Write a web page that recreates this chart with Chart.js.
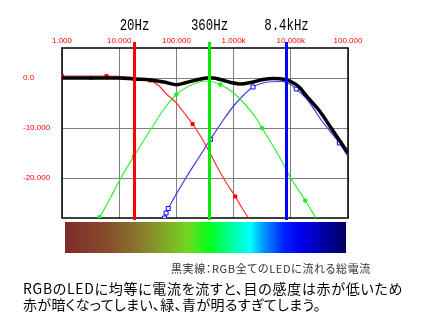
<!DOCTYPE html>
<html>
<head>
<meta charset="utf-8">
<title>RGB LED</title>
<script src="https://cdn.jsdelivr.net/npm/chart.js@4.4.1/dist/chart.umd.min.js"></script>
<style>
  body { margin: 0; background: #fff; }
  #wrap { position: relative; width: 428px; height: 327px; overflow: hidden; }
  #chart { position: absolute; left: 0; top: 0; }
  #spectrum {
    position: absolute; left: 65px; top: 222px; width: 281px; height: 31px;
    background: linear-gradient(to right, #7e2a28 0%, #86502c 16%, #8a7a2c 27%, #80b028 37%, #70d820 44%,
      #30f018 48%, #00ff20 52%, #00ff99 59%, #00ffff 66%, #0090ff 71%, #0020ff 78%, #0000ee 84%, #000060 100%);
  }
  .txt { position: absolute; white-space: nowrap; font-family: "Noto Sans CJK JP", sans-serif; font-feature-settings: "palt"; }
  #note { left: 171px; top: 262px; font-size: 11px; line-height: 13px; color: #333; }
  #cap1 { left: 23px; top: 280px; font-size: 14px; line-height: 16px; color: #000; }
  #cap2 { left: 23px; top: 296px; font-size: 14px; line-height: 16px; color: #000; }
</style>
</head>
<body>
<div id="wrap">
  <canvas id="chart" width="428" height="260"></canvas>
  <div id="spectrum"></div>
  <span class="txt fit" id="note" data-w="200">黒実線：RGB全てのLEDに流れる総電流</span>
  <span class="txt fit" id="cap1" data-w="380">RGBのLEDに均等に電流を流すと、目の感度は赤が低いため</span>
  <span class="txt fit" id="cap2" data-w="298">赤が暗くなってしまい、緑、青が明るすぎてしまう。</span>
</div>
<script>
// axis ticks
const freqTicks = [1, 10, 100, 1000, 10000, 100000];
const freqTickLabels = ['1.000', '10.000', '100.000', '1.000k', '10.000k', '100.000'];
const levelTicks = [0, -10, -20];
const levelTickLabels = ['0.0', '-10.000', '-20.000'];

// vertical marker lines
const lineFreq = [18, 376, 8100];
const lineLabels = ['20Hz', '360Hz', '8.4kHz'];
const lineColors = ['#ff0000', '#00ee00', '#0000ff'];

// red LED
const redFreq = [1, 6, 15, 25, 35, 50, 64, 100, 133, 192, 260, 340, 500, 750, 1070, 1400, 1830];
const redLevel = [0.4, 0.4, 0.2, -0.1, -0.5, -1.6, -3, -5, -6.8, -9.2, -11.5, -13.8, -17.5, -21, -23.7, -26, -28];
const redMarkFreq = [1, 6, 35, 192, 1070];
const redMarkLevel = [0.4, 0.4, -0.5, -9.2, -23.7];

// green LED
const greenFreq = [4.5, 7, 10.7, 18, 37, 60, 100, 200, 330, 586, 1000, 1600, 2570, 3140, 6000, 10000, 17900, 27600];
const greenLevel = [-28, -24, -20, -15.7, -10, -6.3, -3.3, -1.2, -0.6, -1.3, -3, -5.3, -8.3, -10, -15.3, -20, -24.5, -28];
const greenMarkFreq = [4.5, 18, 100, 586, 3140, 17900];
const greenMarkLevel = [-27.8, -15.7, -3.3, -1.3, -10, -24.5];

// blue LED
const blueFreq = [62, 66, 72, 150, 250, 392, 670, 1000, 1500, 2180, 4000, 7000, 10000, 12470, 20000, 35000, 70500, 100000];
const blueLevel = [-28, -27, -26.1, -19.8, -15.8, -12.3, -8.3, -5.6, -3.4, -1.8, -0.8, -0.7, -1.3, -2.2, -4.5, -8.6, -13, -15.7];
const blueMarkFreq = [62, 66, 72, 392, 2180, 12470, 70500];
const blueMarkLevel = [-28, -27, -26.1, -12.3, -1.8, -2.2, -13];

// total current (black)
const totalFreq = [1, 3.2, 10, 18, 35, 64, 100, 150, 250, 344, 440, 586, 900, 1300, 2000, 3270, 5000, 8000, 10000, 14000, 17900, 32800, 50000, 100000];
const totalLevel = [0, 0, 0, -0.2, -0.4, -0.85, -1.35, -0.9, -0.25, 0, 0, -0.3, -0.9, -1.2, -0.9, -0.3, -0.1, -0.3, -0.7, -1.8, -3.3, -6.8, -9.9, -15];
const totalMarkFreq = [3.2, 586, 3270, 17900];
const totalMarkLevel = [0, -0.3, -0.3, -3.3];

function pts(xs, ys) {
    return xs.map(function (x, i) { return { x: x, y: ys[i] }; });
}

const overlay = {
    id: 'overlay',
    beforeDatasetsDraw(chart) {
        const ctx = chart.ctx;
        const a = chart.chartArea;
        ctx.save();
        ctx.strokeStyle = '#000';
        ctx.lineWidth = 1.5;
        ctx.strokeRect(a.left, a.top, a.right - a.left, a.bottom - a.top);
        ctx.restore();
    },
    afterDatasetsDraw(chart) {
        const ctx = chart.ctx;
        const a = chart.chartArea;
        const xScale = chart.scales.x;
        ctx.save();
        lineFreq.forEach(function (f, i) {
            const x = Math.round(xScale.getPixelForValue(f)) + 0.5;
            ctx.strokeStyle = lineColors[i];
            ctx.lineWidth = 3;
            ctx.beginPath();
            ctx.moveTo(x, a.top - 6);
            ctx.lineTo(x, a.bottom + 2);
            ctx.stroke();

            ctx.save();
            ctx.translate(x, 29.5);
            ctx.scale(1, 1.3);
            ctx.fillStyle = '#000';
            ctx.font = '12.4px "Liberation Mono"';
            ctx.textAlign = 'center';
            ctx.fillText(lineLabels[i], 0, 0);
            ctx.restore();
        });
        ctx.restore();
    }
};

const tickFont = { family: 'Liberation Sans', size: 8 };

new Chart(document.getElementById('chart').getContext('2d'), {
    type: 'line',
    data: {
        datasets: [
            { data: pts(totalFreq, totalLevel), borderColor: '#000', borderWidth: 3.5, pointRadius: 0, cubicInterpolationMode: 'monotone' },
            { data: pts(totalMarkFreq, totalMarkLevel), showLine: false, pointStyle: 'rect', pointRadius: 2.2, backgroundColor: '#000', borderColor: '#000', borderWidth: 0 },
            { data: pts(redMarkFreq, redMarkLevel), showLine: false, pointStyle: 'rect', pointRadius: 2.8, backgroundColor: '#ff0000', borderColor: '#ff0000', borderWidth: 0 },
            { data: pts(greenMarkFreq, greenMarkLevel), showLine: false, pointStyle: 'circle', pointRadius: 2.2, backgroundColor: '#22ee22', borderColor: '#22ee22', borderWidth: 0 },
            { data: pts(blueMarkFreq, blueMarkLevel), showLine: false, pointStyle: 'rect', pointRadius: 2.8, backgroundColor: '#ffffff', borderColor: '#0000ff', borderWidth: 1 },
            { data: pts(redFreq, redLevel), borderColor: '#ff3030', borderWidth: 1.2, pointRadius: 0, cubicInterpolationMode: 'monotone' },
            { data: pts(greenFreq, greenLevel), borderColor: '#33ee33', borderWidth: 1.2, pointRadius: 0, cubicInterpolationMode: 'monotone' },
            { data: pts(blueFreq, blueLevel), borderColor: '#3838ff', borderWidth: 1.2, pointRadius: 0, cubicInterpolationMode: 'monotone' }
        ]
    },
    options: {
        responsive: false,
        devicePixelRatio: 1,
        animation: false,
        events: [],
        layout: { padding: { left: 23, right: 80, top: 0, bottom: 42 } },
        plugins: { legend: { display: false }, tooltip: { enabled: false } },
        scales: {
            x: {
                type: 'logarithmic',
                position: 'top',
                min: 1,
                max: 100000,
                afterBuildTicks: function (scale) {
                    scale.ticks = freqTicks.map(function (v) { return { value: v }; });
                },
                afterFit: function (scale) { scale.height = 48; },
                grid: { color: '#808080', lineWidth: 1, drawTicks: false },
                border: { display: false },
                ticks: {
                    color: '#ff0000',
                    font: tickFont,
                    padding: 2,
                    autoSkip: false,
                    maxRotation: 0,
                    callback: function (value) { return freqTickLabels[freqTicks.indexOf(value)]; }
                }
            },
            y: {
                min: -28,
                max: 6,
                afterBuildTicks: function (scale) {
                    scale.ticks = levelTicks.map(function (v) { return { value: v }; });
                },
                afterFit: function (scale) { scale.width = 39; },
                grid: { color: '#808080', lineWidth: 1, drawTicks: false },
                border: { display: false },
                ticks: {
                    color: '#ff0000',
                    font: tickFont,
                    crossAlign: 'far',
                    callback: function (value) { return levelTickLabels[levelTicks.indexOf(value)]; }
                }
            }
        }
    },
    plugins: [overlay]
});

// squeeze the captions to the widths of the original bitmap font
document.querySelectorAll('.fit').forEach(function (el) {
    const target = +el.dataset.w;
    const n = el.textContent.length;
    const w = el.getBoundingClientRect().width;
    el.style.letterSpacing = ((target - w) / n) + 'px';
});
</script>
</body>
</html>
